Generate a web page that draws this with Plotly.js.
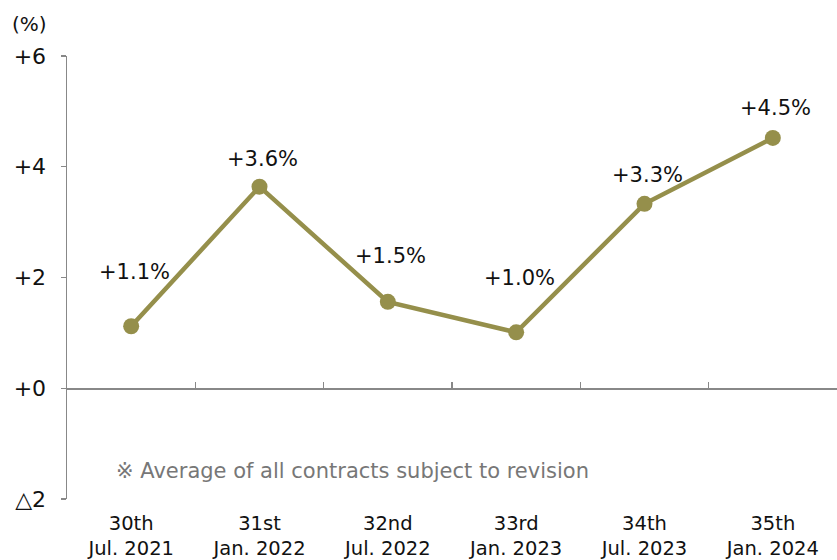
<!DOCTYPE html>
<html><head><meta charset="utf-8">
<script src="https://cdn.plot.ly/plotly-3.0.1.min.js"></script>
<style>body{margin:0;background:#fff}#c{width:837px;height:560px}</style>
</head><body><div id="c"></div>
<script>
const categories = ["30th<br>Jul. 2021","31st<br>Jan. 2022","32nd<br>Jul. 2022","33rd<br>Jan. 2023","34th<br>Jul. 2023","35th<br>Jan. 2024"];
const values = [1.12, 3.64, 1.56, 1.01, 3.33, 4.52];
const valueLabels = ["+1.1%","+3.6%","+1.5%","+1.0%","+3.3%","+4.5%"];
const yTickVals = [-2, 0, 2, 4, 6];
const yTickText = ["△2","+0","+2","+4","+6"];
const labelShift = [54, 28, 46, 54, 29, 30];

const FONT = "DejaVu Sans, Verdana, sans-serif";
const idx = categories.map((_, i) => i);

const traces = [
  {x: idx, y: values, type: "scatter", mode: "lines+markers",
   line: {color: "#958F4B", width: 4.5},
   marker: {color: "#958F4B", size: 16},
   hoverinfo: "skip", showlegend: false, xaxis: "x", yaxis: "y"},
  {x: idx, y: values.map(() => null), type: "scatter", mode: "markers",
   showlegend: false, hoverinfo: "skip", xaxis: "x2", yaxis: "y"}
];

const annotations = values.map((v, i) => ({
  x: i, y: v, xref: "x", yref: "y", text: valueLabels[i], showarrow: false,
  yshift: labelShift[i], xshift: 3, font: {family: FONT, size: 21, color: "#111"}
}));
annotations.push({xref: "paper", yref: "paper", x: -0.049, y: 1.073, text: "(%)",
  showarrow: false, xanchor: "center", yanchor: "middle",
  font: {family: FONT, size: 20, color: "#111"}});
annotations.push({xref: "paper", yref: "y", x: 0.061, y: -1.5, text: "※ Average of all contracts subject to revision",
  showarrow: false, xanchor: "left", yanchor: "middle",
  font: {family: FONT, size: 21, color: "#777"}});

const layout = {
  width: 837, height: 560,
  margin: {l: 67, r: 0, t: 56, b: 61},
  paper_bgcolor: "#fff", plot_bgcolor: "#fff",
  font: {family: FONT, color: "#111"},
  xaxis: {range: [-0.5, 5.5], tickmode: "array", tickvals: idx, ticktext: categories,
    showline: false, showgrid: false, zeroline: false, ticks: "",
    ticklabelstandoff: 10, tickfont: {family: FONT, size: 19.5, color: "#111"}},
  xaxis2: {overlaying: "x", anchor: "free", position: 0.25, side: "bottom",
    range: [-0.5, 5.5], tickmode: "array", tickvals: [0.5, 1.5, 2.5, 3.5, 4.5],
    showticklabels: false, ticks: "inside", ticklen: 6, tickcolor: "#888", tickwidth: 1.3,
    showline: true, linecolor: "#888", linewidth: 1.5, showgrid: false, zeroline: false},
  yaxis: {range: [-2, 6], tickmode: "array", tickvals: yTickVals, ticktext: yTickText,
    showline: true, linecolor: "#888", linewidth: 1.5, ticks: "outside", ticklen: 5,
    tickcolor: "#888", tickwidth: 1.3, showgrid: false, zeroline: false,
    ticklabelstandoff: 10, tickfont: {family: FONT, size: 22, color: "#111"}},
  annotations: annotations
};
Plotly.newPlot("c", traces, layout, {displayModeBar: false, staticPlot: true});
</script></body></html>
